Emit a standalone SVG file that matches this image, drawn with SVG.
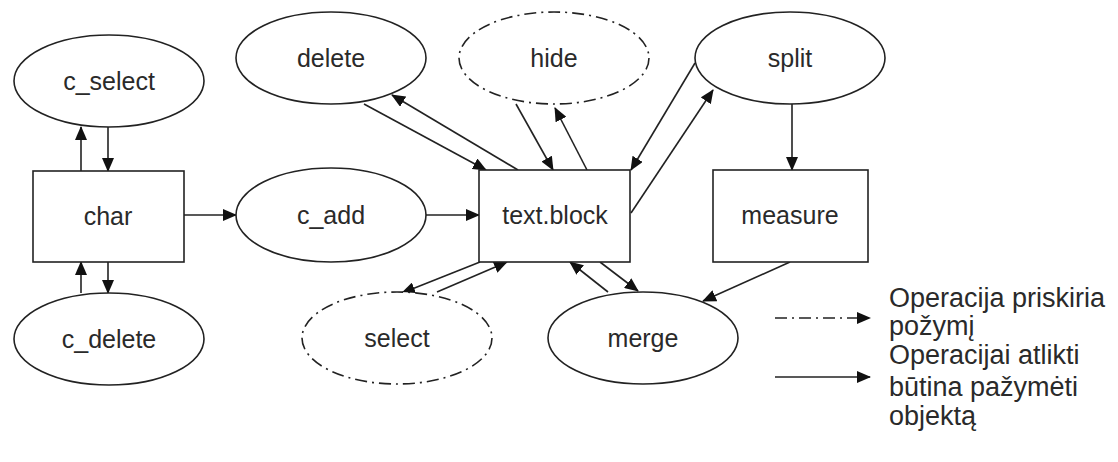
<svg xmlns="http://www.w3.org/2000/svg" width="1118" height="462" viewBox="0 0 1118 462">
<style>
.n{fill:#fff;stroke:#222;stroke-width:1.6}
.dd{stroke-dasharray:12 5 2 5}
.t{font-family:"Liberation Sans",Arial,sans-serif;font-size:25px;fill:#2a2a2a;text-anchor:middle}
.l{font-family:"Liberation Sans",Arial,sans-serif;font-size:27px;fill:#2a2a2a}
.c{stroke:#222;stroke-width:1.6;fill:none;marker-end:url(#ah)}
</style>
<defs>
<marker id="ah" markerUnits="userSpaceOnUse" markerWidth="14" markerHeight="12" refX="13" refY="6" orient="auto">
<path d="M0,0 L14,6 L0,12 Z" fill="#111"/>
</marker>
</defs>
<g id="connectors">
<line class="c" x1="81" y1="171" x2="81" y2="127"/>
<line class="c" x1="108" y1="127" x2="108" y2="171"/>
<line class="c" x1="81" y1="293" x2="81" y2="262"/>
<line class="c" x1="108" y1="262" x2="108" y2="293"/>
<line class="c" x1="184" y1="215" x2="236" y2="215"/>
<line class="c" x1="426" y1="215" x2="479" y2="215"/>
<line class="c" x1="364" y1="104" x2="486" y2="170"/>
<line class="c" x1="518" y1="170" x2="392" y2="95"/>
<line class="c" x1="516" y1="104" x2="553" y2="170"/>
<line class="c" x1="587" y1="170" x2="555" y2="108"/>
<line class="c" x1="695" y1="63" x2="631" y2="170"/>
<line class="c" x1="631" y1="213" x2="713" y2="90"/>
<line class="c" x1="792" y1="104" x2="792" y2="170"/>
<line class="c" x1="790" y1="262" x2="703" y2="301"/>
<line class="c" x1="480" y1="262" x2="402" y2="293"/>
<line class="c" x1="437" y1="292" x2="507" y2="262"/>
<line class="c" x1="608" y1="292" x2="570" y2="262"/>
<line class="c" x1="600" y1="262" x2="638" y2="291"/>
<line class="c dd" x1="775" y1="318" x2="870" y2="318"/>
<line class="c" x1="775" y1="377" x2="870" y2="377"/>
</g>
<g id="c_select"><ellipse class="n" cx="109" cy="81" rx="95" ry="46"/><text class="t" x="109" y="90">c_select</text></g>
<g id="char"><rect class="n" x="33" y="171" width="151" height="91"/><text class="t" x="108" y="225">char</text></g>
<g id="c_delete"><ellipse class="n" cx="109" cy="339" rx="95" ry="46"/><text class="t" x="109" y="348">c_delete</text></g>
<g id="c_add"><ellipse class="n" cx="331" cy="215" rx="95" ry="47"/><text class="t" x="331" y="224">c_add</text></g>
<g id="delete"><ellipse class="n" cx="331" cy="58" rx="95" ry="46"/><text class="t" x="331" y="67">delete</text></g>
<g id="hide"><ellipse class="n dd" cx="554" cy="58" rx="95" ry="46"/><text class="t" x="554" y="67">hide</text></g>
<g id="text.block"><rect class="n" x="479" y="170" width="151" height="92"/><text class="t" x="555" y="224">text.block</text></g>
<g id="split"><ellipse class="n" cx="790" cy="58" rx="95" ry="46"/><text class="t" x="790" y="67">split</text></g>
<g id="measure"><rect class="n" x="713" y="170" width="155" height="92"/><text class="t" x="790" y="224">measure</text></g>
<g id="select"><ellipse class="n dd" cx="397" cy="338" rx="95" ry="46"/><text class="t" x="397" y="347">select</text></g>
<g id="merge"><ellipse class="n" cx="643" cy="338" rx="95" ry="46"/><text class="t" x="643" y="347">merge</text></g>
<g id="legend">
<text class="l" x="889" y="307">Operacija priskiria</text>
<text class="l" x="889" y="335">požymį</text>
<text class="l" x="889" y="364">Operacijai atlikti</text>
<text class="l" x="889" y="396">būtina pažymėti</text>
<text class="l" x="889" y="425">objektą</text>
</g>
</svg>
